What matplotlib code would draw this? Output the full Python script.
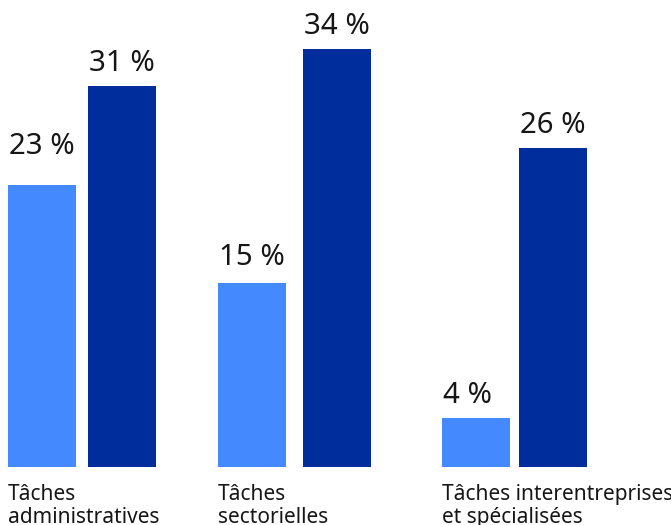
import matplotlib
matplotlib.use("Agg")
from matplotlib import pyplot as plt

plt.rcParams['font.family'] = ['Noto Sans', 'DejaVu Sans']

# data
categories = ["Tâches\nadministratives", "Tâches\nsectorielles", "Tâches interentreprises\net spécialisées"]
light_values = [23, 15, 4]
dark_values = [31, 34, 26]

# layout (x in pixels of the 671 px wide figure)
light_left = [8, 218, 442]
dark_left = [88, 303, 519]
light_gap = [31, 18, 15]   # espace (px) entre barre et étiquette
dark_gap = [15, 15, 15]
bar_w = 68
px_per_unit = 12.28
light_color = '#4589ff'
dark_color = '#002d9c'

fig = plt.figure(figsize=(6.71, 5.25), dpi=100)
ax = fig.add_axes([0, 58 / 525, 1, 462 / 525])
ax.set_xlim(0, 671)
ax.set_ylim(0, 462 / px_per_unit)
ax.axis('off')

ax.bar(light_left, light_values, width=bar_w, align='edge', color=light_color)
ax.bar(dark_left, dark_values, width=bar_w, align='edge', color=dark_color)

# valeurs au-dessus des barres
for xs, vals, gaps in [(light_left, light_values, light_gap), (dark_left, dark_values, dark_gap)]:
    for x, v, g in zip(xs, vals, gaps):
        ax.annotate('%d %%' % v, xy=(x, v), xytext=(1, g * 0.72), textcoords='offset points',
                    ha='left', va='baseline', fontsize=21.2, color='#161616')

# libellés des catégories
for x, lab in zip(light_left, categories):
    ax.annotate(lab, xy=(x, 0), xytext=(0, -12), textcoords='offset points',
                ha='left', va='top', fontsize=15, color='#161616', linespacing=1.15,
                annotation_clip=False)

fig.savefig('out.png', dpi=100)
